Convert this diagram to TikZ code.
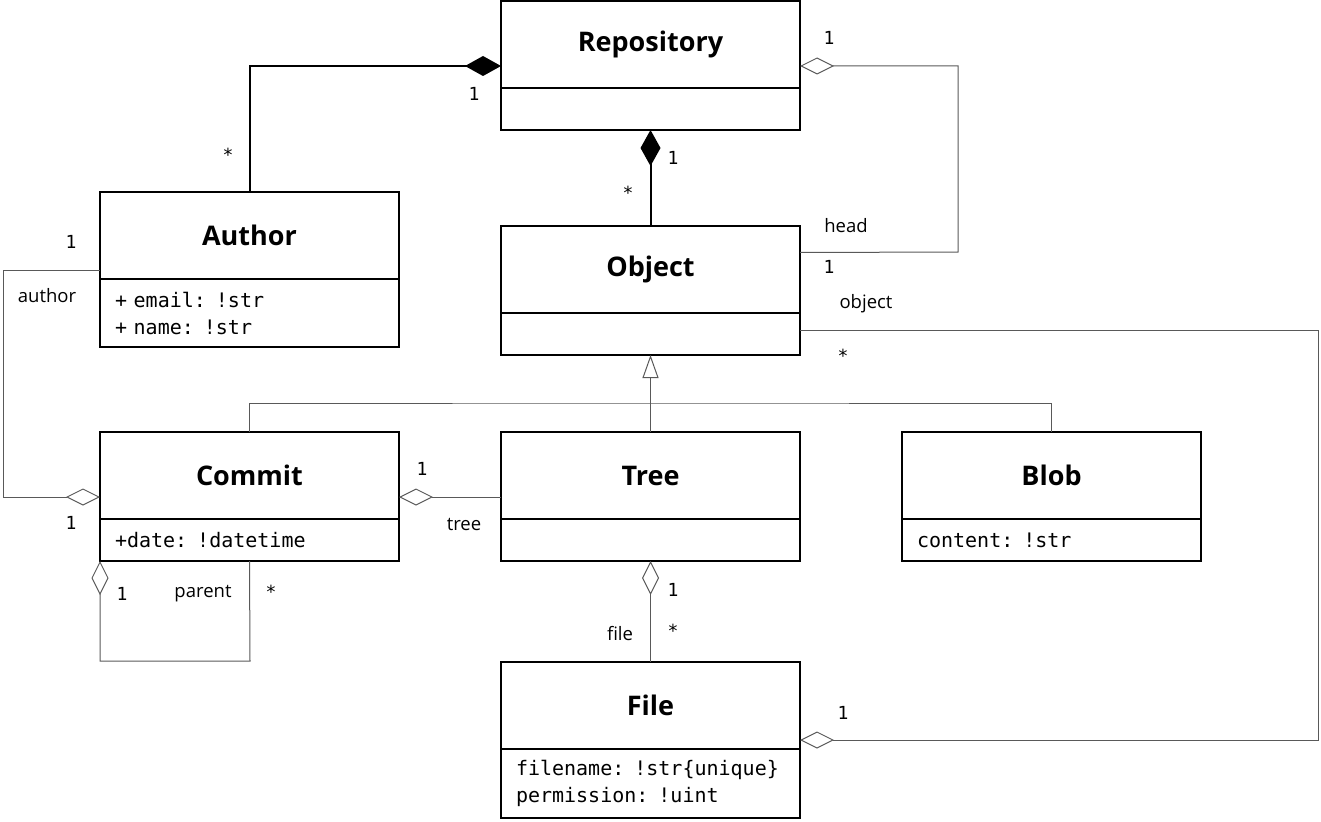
\documentclass[tikz,border=0pt]{standalone}
\usepackage{fontspec}
\setmainfont{Open Sans}
\setmonofont{DejaVu Sans Mono}
\usetikzlibrary{arrows.meta}

\tikzset{
  classbox/.style={draw, line width=2pt, outer sep=0pt, minimum width=299pt,
    minimum height=87pt, anchor=north west, font=\fontsize{27}{30}\selectfont\bfseries},
  attrbox/.style={draw, line width=2pt, outer sep=0pt, minimum width=299pt,
    text width=269pt, inner xsep=15pt, align=left, anchor=north west,
    font=\fontsize{20}{27}\selectfont\ttfamily},
  mult/.style={font=\fontsize{18}{20}\selectfont\ttfamily, inner sep=0pt},
  role/.style={font=\fontsize{18.5}{20}\selectfont, inner sep=0pt},
  thin/.style={draw=black!65, line width=1pt},
  comp/.style={line width=2pt, -{Diamond[length=36pt,width=20pt]}},
  agg/.style={thin, -{Diamond[open,length=34pt,width=17pt,fill=white]}},
  gen/.style={thin, -{Triangle[open,length=23pt,width=16pt,fill=white]}}
}

\begin{document}
\begin{tikzpicture}[x=1pt,y=-1pt]
      \useasboundingbox (0,0) rectangle (1321,821);

      % classes
      \node[classbox] (repo) at (501,1) {Repository};
      \node[classbox, minimum height=42pt] (repoA) at (repo.south west) {};
      \node[classbox] (author) at (100,192) {Author};
      \node[attrbox, minimum height=68pt] (authorA) at (author.south west) {+ email: !str\\+ name: !str};
      \node[classbox] (obj) at (501,226) {Object};
      \node[classbox, minimum height=42pt] (objA) at (obj.south west) {};
      \node[classbox] (commit) at (100,432) {Commit};
      \node[attrbox, minimum height=42pt] (commitA) at (commit.south west) {+date: !datetime};
      \node[classbox] (tree) at (501,432) {Tree};
      \node[classbox, minimum height=42pt] (treeA) at (tree.south west) {};
      \node[classbox] (blob) at (902,432) {Blob};
      \node[attrbox, minimum height=42pt] (blobA) at (blob.south west) {content: !str};
      \node[classbox] (file) at (501,662) {File};
      \node[attrbox, minimum height=69pt] (fileA) at (file.south west) {filename: !str\{unique\}\\permission: !uint};

      % composition
      \draw[comp] (author.north) |- ([yshift=22pt]repo.south west);
      \draw[comp] (obj.north) -- (repoA.south);

      % aggregation
      \draw[agg] ([yshift=17pt]obj.east) -- (958,252) -- (958,66) -- ([yshift=22pt]repo.south east);
      \draw[agg] ([yshift=4pt]objA.east) -- (1318,330) -- (1318,740) -- ([yshift=9pt]file.south east);
      \draw[agg] ([yshift=9pt]author.south west) -- (3,270) -- (3,497) -- ([yshift=22pt]commit.south west);
      \draw[agg] ([yshift=22pt]tree.south west) -- ([yshift=22pt]commit.south east);
      \draw[agg] (commitA.south) -- (250,661) -- (100,661) -- (commitA.south west);
      \draw[agg] (file.north) -- (treeA.south);

      % generalization
      \coordinate (bus) at (651,403);
      \draw[gen] (tree.north) -- (objA.south);
      \draw[thin] (commit.north) |- (bus) -| (blob.north);

      % labels
      \node[mult] (m1) at (474,94) {1};
      \node[mult] (m2) at (228,155) {*};
      \node[mult] (m3) at (673,158) {1};
      \node[mult] (m4) at (628,193) {*};
      \node[mult] (m5) at (829,38) {1};
      \node[role] (r1) at (846,226) {head};
      \node[mult] (m6) at (829,267) {1};
      \node[role] (r2) at (866,304) {object};
      \node[mult] (m7) at (843,356) {*};
      \node[mult] (m8) at (843,713) {1};
      \node[mult] (m9) at (71,242) {1};
      \node[role] (r3) at (47,296) {author};
      \node[mult] (m10) at (71,523) {1};
      \node[mult] (m11) at (422,469) {1};
      \node[role] (r4) at (464,524) {tree};
      \node[mult] (m12) at (122,594) {1};
      \node[role] (r5) at (203,594) {parent};
      \node[mult] (m13) at (271,592) {*};
      \node[mult] (m14) at (673,590) {1};
      \node[role] (r6) at (620,634) {file};
      \node[mult] (m15) at (673,631) {*};
\end{tikzpicture}
\end{document}
